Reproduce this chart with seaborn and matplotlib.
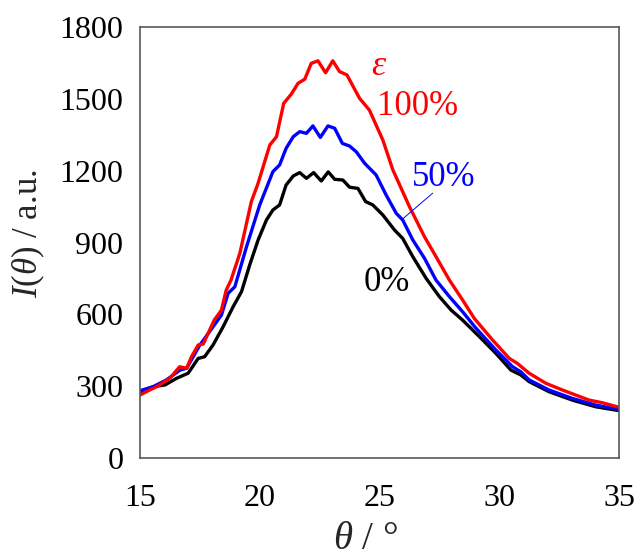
import matplotlib
matplotlib.use('Agg')
import matplotlib.pyplot as plt
import seaborn as sns

# theta (deg) and I(theta) (a.u.)
theta_100 = [15.0, 15.4, 15.7, 16.25, 16.65, 16.95, 17.15, 17.43, 17.64, 18.1, 18.4, 18.6, 18.8,
             19.17, 19.65, 19.93, 20.42, 20.7, 21.0, 21.32, 21.6, 21.88, 22.15, 22.43, 22.75,
             23.05, 23.33, 23.64, 24.17, 24.58, 25.14, 25.56, 26.25, 26.88, 27.36, 27.92, 28.47,
             28.96, 29.72, 30.42, 30.76, 31.25, 31.95, 32.64, 33.75, 34.3, 35.0]
int_100 = [263, 284, 298, 333, 381, 375, 423, 472, 476, 576, 618, 701, 743,
           855, 1071, 1147, 1307, 1342, 1481, 1520, 1565, 1582, 1648, 1659, 1609,
           1659, 1614, 1600, 1502, 1453, 1328, 1203, 1050, 924, 841, 743, 660,
           583, 493, 416, 395, 354, 312, 284, 242, 231, 212]

theta_50 = [15.0, 15.55, 16.1, 16.67, 16.95, 17.5, 17.9, 18.4, 18.68, 18.96, 19.45, 20.0, 20.55,
            20.83, 21.1, 21.4, 21.67, 21.95, 22.22, 22.53, 22.85, 23.13, 23.45, 23.75, 24.03,
            24.38, 24.86, 25.28, 25.7, 25.97, 26.39, 26.88, 27.36, 27.92, 28.47, 29.03, 29.86,
            30.56, 30.9, 31.25, 32.08, 33.05, 34.03, 35.0]
int_50 = [281, 298, 326, 367, 375, 472, 527, 597, 688, 715, 883, 1057, 1196,
          1224, 1293, 1342, 1363, 1356, 1387, 1339, 1387, 1377, 1314, 1303, 1279,
          1231, 1182, 1098, 1022, 994, 911, 834, 743, 674, 611, 542, 451,
          381, 360, 326, 284, 249, 221, 203]

theta_0 = [15.0, 15.55, 16.04, 16.53, 17.01, 17.43, 17.7, 18.05, 18.47, 18.89, 19.24, 19.58, 19.93,
           20.28, 20.55, 20.83, 21.1, 21.4, 21.67, 21.95, 22.25, 22.57, 22.86, 23.13, 23.47,
           23.75, 24.1, 24.42, 24.72, 25.14, 25.63, 25.97, 26.39, 26.95, 27.5, 27.99, 28.47,
           29.17, 29.86, 30.49, 30.9, 31.25, 32.08, 33.05, 34.03, 35.0]
int_0 = [273, 298, 305, 333, 354, 416, 423, 472, 548, 632, 695, 806, 910,
         994, 1036, 1057, 1140, 1178, 1192, 1168, 1192, 1157, 1195, 1164, 1161,
         1131, 1126, 1071, 1057, 1015, 952, 917, 841, 750, 674, 618, 576,
         507, 437, 367, 347, 319, 277, 242, 214, 198]

sns.set_style('white')
plt.rcParams['font.family'] = ['Liberation Serif', 'DejaVu Serif']
plt.rcParams['mathtext.fontset'] = 'custom'
plt.rcParams['mathtext.rm'] = 'Liberation Serif'
plt.rcParams['mathtext.it'] = 'Liberation Serif:italic'

fig = plt.figure(figsize=(6.34, 5.57), dpi=100)
ax = fig.add_axes([0.2208, 0.1777, 0.7555, 0.7738])

sns.lineplot(x=theta_0, y=int_0, color='black', linewidth=2.4, estimator=None, ax=ax)
sns.lineplot(x=theta_50, y=int_50, color='#0000ff', linewidth=2.4, estimator=None, ax=ax)
sns.lineplot(x=theta_100, y=int_100, color='#ff0000', linewidth=2.4, estimator=None, ax=ax)

ax.set_xlim(15, 35)
ax.set_ylim(0, 1800)
ax.set_xticks([15, 20, 25, 30, 35])
ax.set_yticks([0, 300, 600, 900, 1200, 1500, 1800])
ax.tick_params(axis='both', length=0, labelsize=23, colors='black')
ax.tick_params(axis='y', pad=12)
ax.tick_params(axis='x', pad=19)
for s in ax.spines.values():
    s.set_color('#595959')
    s.set_linewidth(1.2)

ax.set_xlabel(r'$\theta$ / °', fontsize=28)
ax.xaxis.set_label_coords(0.47, -0.19)
ax.xaxis.label.set_verticalalignment('center')
ax.set_ylabel(r'$I$($\theta$) / a.u.', fontsize=25)
ax.yaxis.set_label_coords(-0.233, 0.52)
ax.yaxis.label.set_verticalalignment('center')

# curve labels
ax.text(25.0, 1634, r'$\varepsilon$', color='#ff0000', fontsize=26, ha='center', va='center')
ax.text(26.58, 1466, '100%', color='#ff0000', fontsize=25, ha='center', va='center')
ax.text(27.67, 1170, '50%', color='#0000ff', fontsize=25, ha='center', va='center')
ax.plot([27.22, 25.95], [1106, 997], color='#0000ff', linewidth=0.7)
ax.text(25.29, 731, '0%', color='black', fontsize=25, ha='center', va='center')

fig.savefig('out.png', dpi=100)
